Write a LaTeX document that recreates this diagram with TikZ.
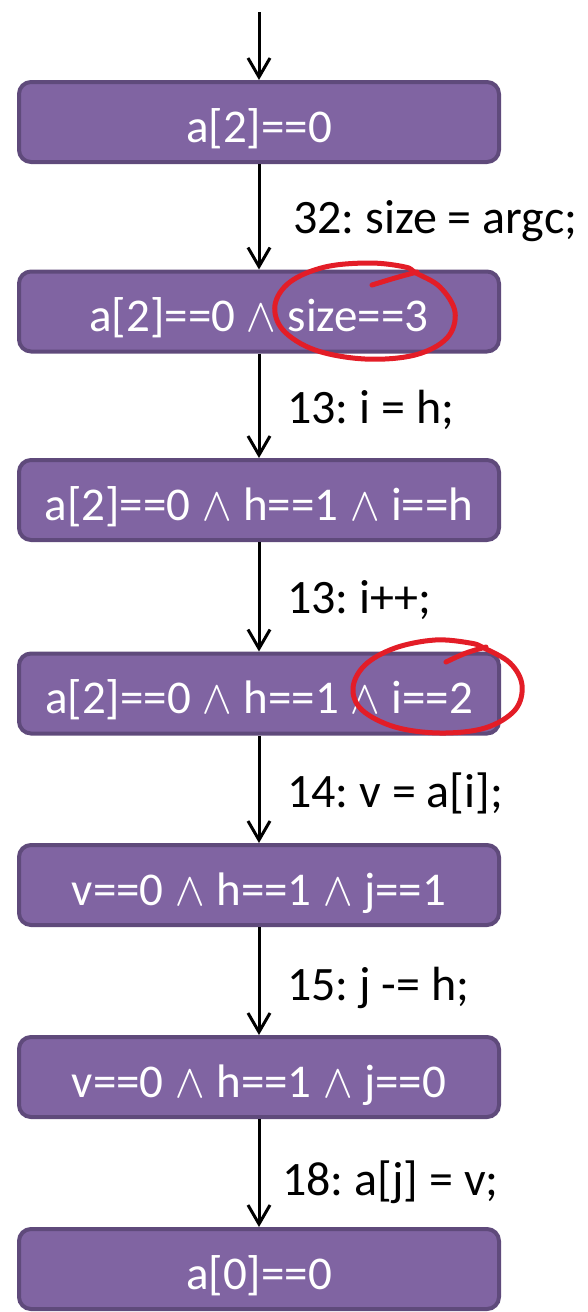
\documentclass[tikz,border=0pt]{standalone}
\usepackage{fontspec}
\usepackage{unicode-math}
\setmainfont{Carlito}
\setmathfont{Latin Modern Math}
\usetikzlibrary{arrows.meta}
\definecolor{boxfill}{HTML}{8064A2}
\definecolor{boxline}{HTML}{5F4A7B}
\definecolor{pen}{HTML}{E31D27}
\tikzset{
  statebox/.style={draw=boxline, fill=boxfill, line width=4pt, rounded corners=12pt,
    minimum width=480pt, minimum height=80pt, inner sep=0pt, text=white,
    font=\fontsize{47}{56}\selectfont\frenchspacing, text height=40pt, text depth=0pt},
  stmt/.style={anchor=base west, inner sep=0pt, text=black, font=\fontsize{48}{56}\selectfont\frenchspacing},
  arr/.style={line width=3pt, -{Straight Barb[length=19pt, width=22pt, line width=3pt]}},
  ring/.style={draw=pen, line width=5pt, line cap=round, line join=round}
}
\begin{document}
\begin{tikzpicture}[x=1pt, y=-1pt]
\useasboundingbox (0,0) rectangle (587,1312);
\coordinate (start) at (259,12);
\node[statebox] (b1) at (259,122) {a[2]==0};
\node[statebox] (b2) at (259,311.5) {a[2]==0 $\wedge$ size==3};
\node[statebox] (b3) at (259,500) {a[2]==0 $\wedge$ h==1 $\wedge$ i==h};
\node[statebox] (b4) at (259,693.5) {a[2]==0 $\wedge$ h==1 $\wedge$ i==2};
\node[statebox] (b5) at (259,885) {v==0 $\wedge$ h==1 $\wedge$ j==1};
\node[statebox] (b6) at (259,1077) {v==0 $\wedge$ h==1 $\wedge$ j==0};
\node[statebox] (b7) at (259,1269) {a[0]==0};
\draw[arr] (start) -- (b1.north);
\draw[arr] (b1.south) -- (b2.north);
\draw[arr] (b2.south) -- (b3.north);
\draw[arr] (b3.south) -- (b4.north);
\draw[arr] (b4.south) -- (b5.north);
\draw[arr] (b5.south) -- (b6.north);
\draw[arr] (b6.south) -- (b7.north);
\node[stmt] (l1) at (293,233) {32: size = argc;};
\node[stmt] (l2) at (287,423) {13: i = h;};
\node[stmt] (l3) at (287,613) {13: i++;};
\node[stmt] (l4) at (287,807) {14: v = a[i];};
\node[stmt] (l5) at (287,1000) {15: j -= h;};
\node[stmt] (l6) at (282,1195) {18: a[j] = v;};
% hand-drawn rings
\draw[ring] plot[smooth cycle, tension=0.6] coordinates {(416,273) (440,287) (455,312) (447,338) (415,355) (365,359) (315,350) (283,330) (275,305) (290,282) (325,267) (370,263) (405,267)};
\draw[ring] plot[smooth, tension=0.6] coordinates {(372,285) (395,278) (417,272)};
\draw[ring] plot[smooth cycle, tension=0.6] coordinates {(484,648) (510,663) (522,685) (515,710) (485,728) (440,733) (395,727) (362,710) (353,688) (365,665) (395,648) (435,640) (470,643)};
\draw[ring] plot[smooth, tension=0.6] coordinates {(446,662) (466,653) (486,647)};
\end{tikzpicture}
\end{document}
